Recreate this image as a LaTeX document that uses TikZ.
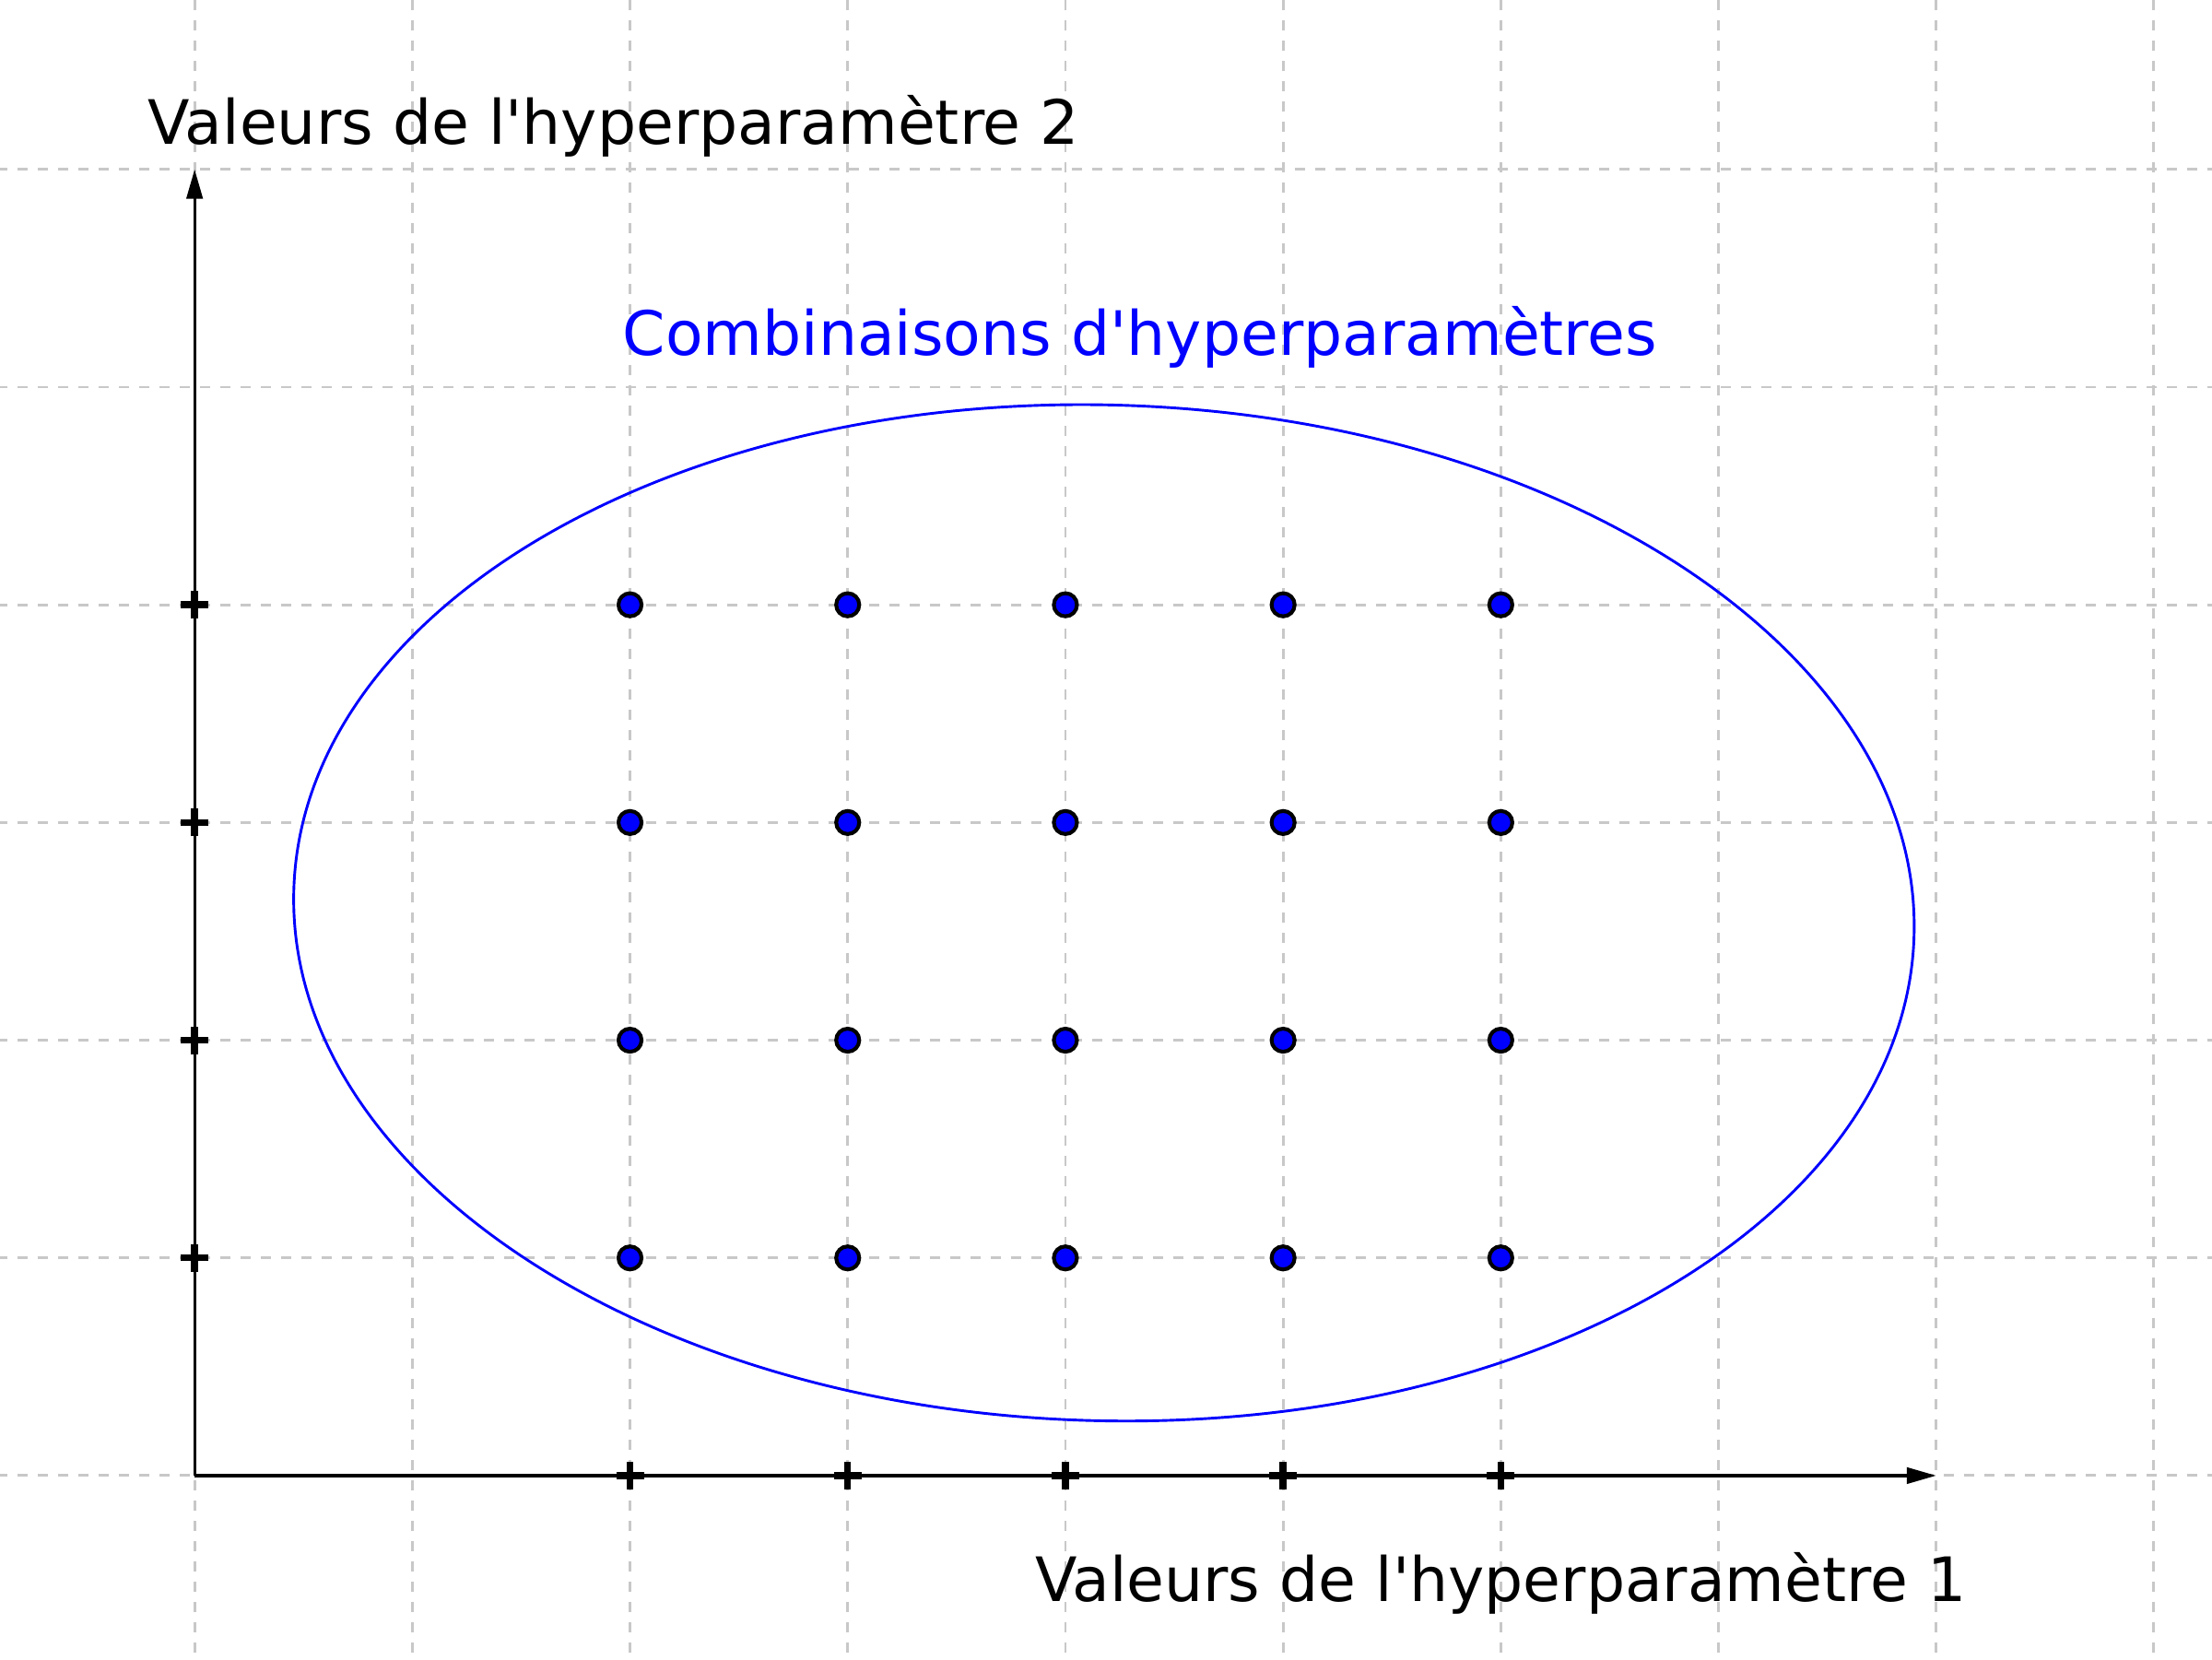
\documentclass[tikz,border=0pt]{standalone}
\usepackage{fontspec}
\setmainfont{DejaVu Sans}[Ligatures=TeXOff]
\usetikzlibrary{arrows.meta}
\definecolor{gridgray}{RGB}{200,200,200}
\definecolor{ptblue}{RGB}{0,0,255}
\tikzset{
  gridline/.style={draw=gridgray, line width=0.35pt, dash pattern=on 1.35pt off 1.3pt},
  axisline/.style={draw=black, line width=0.4pt, -{Triangle[length=3.85pt,width=2.1pt]}},
  tickmark/.style={draw=black, line width=0.9pt},
  dotpt/.style={circle, fill=ptblue, draw=black, line width=0.5pt, minimum size=0.106cm, inner sep=0pt},
  lbl/.style={font=\fontsize{8}{10}\selectfont, anchor=base, inner sep=0pt},
  ellipsestyle/.style={draw=ptblue, line width=0.35pt}
}
\begin{document}
\begin{tikzpicture}
\useasboundingbox (-0.894,-0.843) rectangle (9.267,6.778);
% grid
\foreach \x in {0,...,9} \draw[gridline] (\x,-1) -- (\x,7);
\foreach \y in {0,...,6} \draw[gridline] (-1,\y) -- (10,\y);
% ellipse
\draw[ellipsestyle, rotate around={-1.6:(4.177,2.585)}] (4.177,2.585) ellipse [x radius=3.723, y radius=2.333];
% axes
\coordinate (O) at (0,0);
\coordinate (X) at (8,0);
\coordinate (Y) at (0,6);
\draw[axisline] (O) -- (X);
\draw[axisline] (O) -- (Y);
% ticks
\foreach \x in {2,...,6} {
  \draw[tickmark] (\x-0.0635,0) -- (\x+0.0635,0);
  \draw[tickmark] (\x,-0.0635) -- (\x,0.0635);
}
\foreach \y in {1,...,4} {
  \draw[tickmark] (-0.0635,\y) -- (0.0635,\y);
  \draw[tickmark] (0,\y-0.0635) -- (0,\y+0.0635);
}
% points
\foreach \x in {2,...,6} \foreach \y in {1,...,4}
  \node[dotpt] (p-\x-\y) at (\x,\y) {};
% labels
\node[lbl] (lab1) at (6.0,-0.577) {Valeurs de l'hyperparamètre 1};
\node[lbl] (lab2) at (1.925,6.115) {Valeurs de l'hyperparamètre 2};
\node[lbl, text=ptblue] (labc) at (4.343,5.145) {Combinaisons d'hyperparamètres};
\end{tikzpicture}
\end{document}
